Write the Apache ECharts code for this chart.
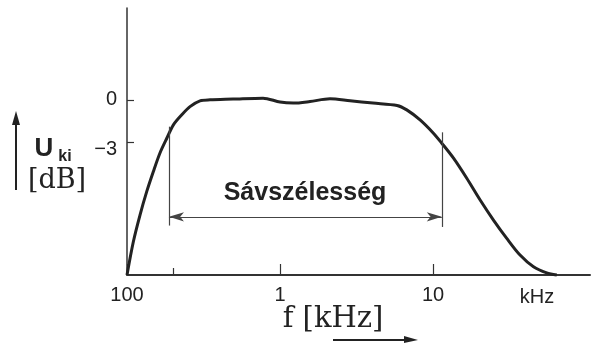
<!DOCTYPE html>
<html>
<head>
<meta charset="utf-8">
<script src="https://cdn.jsdelivr.net/npm/echarts@6/dist/echarts.min.js"></script>
<style>
    html, body { margin: 0; padding: 0; background: #fff; }
    #chart { width: 591px; height: 343px; }
</style>
</head>
<body>
<div id="chart"></div>
<script>
    // frequency response, f in kHz, level in dB
    var responseCurve = [
        [0.1, -12.4], [0.11, -10.05], [0.1216, -8.16], [0.1345, -6.5], [0.1485, -5.09],
        [0.164, -3.78], [0.182, -2.72], [0.201, -1.77], [0.228, -1.06], [0.258, -0.48],
        [0.3, -0.07], [0.349, 0], [0.493, 0.05], [0.774, 0.12], [1.0, -0.16],
        [1.22, -0.23], [1.57, -0.12], [2.12, 0.07], [2.87, -0.07], [4.05, -0.23],
        [5.82, -0.4], [6.73, -0.71], [8.22, -1.42], [10.05, -2.36], [11.4, -3.07],
        [13.6, -4.13], [16.6, -5.55], [20.3, -7.09], [24.8, -8.51], [30.3, -9.81],
        [37.0, -10.99], [45.3, -11.82], [55.3, -12.25], [64.3, -12.4]
    ];
    var xTicks = [0.1, 1, 10];
    var xMinorTicks = [0.2];
    var yTicks = [0, -3];
    // bandwidth bracket (-3 dB points)
    var bandLow = 0.188;
    var bandHigh = 11.4;
    var bandLowSpan = [-1.9, -8.9];
    var bandHighSpan = [-2.3, -9.0];
    var bandArrowLevel = -8.28;

    var ink = '#222';
    var chart = echarts.init(document.getElementById('chart'));
    chart.setOption({
        animation: false,
        grid: { left: 127, right: 1, top: 8, bottom: 68 },
        xAxis: [
            {
                type: 'log',
                logBase: 10,
                min: 0.1,
                max: 106,
                axisLine: { onZero: false, lineStyle: { color: '#333', width: 2 } },
                axisTick: { inside: true, length: 11, customValues: xTicks, lineStyle: { color: '#333', width: 1.2 } },
                axisLabel: {
                    customValues: xTicks,
                    margin: 10,
                    color: ink,
                    fontFamily: 'Liberation Sans',
                    fontSize: 20,
                    formatter: function (v) { return v < 1 ? String(Math.round(v * 1000)) : String(v); }
                },
                splitLine: { show: false }
            },
            {
                type: 'log',
                logBase: 10,
                min: 0.1,
                max: 106,
                position: 'bottom',
                axisLine: { show: false, onZero: false },
                axisTick: { inside: true, length: 7, customValues: xMinorTicks, lineStyle: { color: '#333', width: 1.2 } },
                axisLabel: { show: false },
                splitLine: { show: false }
            }
        ],
        yAxis: {
            type: 'value',
            min: -12.4,
            max: 6.5,
            axisLine: { show: true, onZero: false, lineStyle: { color: '#333', width: 1.5 } },
            axisTick: { show: true, inside: true, length: 7, customValues: yTicks, lineStyle: { color: '#333', width: 1.2 } },
            axisLabel: {
                customValues: yTicks,
                margin: 10,
                color: ink,
                fontFamily: 'Liberation Sans',
                fontSize: 20,
                formatter: function (v) { return v === 0 ? '{n|0}' : '{m|\u22123}'; },
                rich: {
                    n: { fontSize: 20, fontFamily: 'Liberation Sans', color: ink },
                    m: { fontSize: 20, fontFamily: 'Liberation Sans', color: ink, padding: [14, 0, 0, 0] }
                }
            },
            splitLine: { show: false }
        },
        series: [
            {
                type: 'line',
                data: responseCurve,
                smooth: 0.3,
                symbol: 'none',
                clip: false,
                lineStyle: { color: ink, width: 3 }
            },
            {
                type: 'line',
                data: [],
                markLine: {
                    silent: true,
                    animation: false,
                    label: { show: false },
                    lineStyle: { color: '#444', width: 1.2, type: 'solid' },
                    symbol: ['arrow', 'arrow'],
                    symbolSize: [7, 15],
                    data: [
                        [{ coord: [bandLow, bandArrowLevel] }, { coord: [bandHigh, bandArrowLevel] }],
                        [{ coord: [bandLow, bandLowSpan[0]], symbol: 'none' }, { coord: [bandLow, bandLowSpan[1]], symbol: 'none' }],
                        [{ coord: [bandHigh, bandHighSpan[0]], symbol: 'none' }, { coord: [bandHigh, bandHighSpan[1]], symbol: 'none' }]
                    ]
                }
            }
        ],
        graphic: [
            {
                type: 'text', x: 305, y: 193,
                style: { text: 'Sávszélesség', fill: ink, font: 'bold 25px "Liberation Sans"', align: 'center', verticalAlign: 'middle' }
            },
            {
                type: 'text', x: 537, y: 297,
                style: { text: 'kHz', fill: ink, font: '20px "Liberation Sans"', align: 'center', verticalAlign: 'middle' }
            },
            {
                type: 'text', x: 333, y: 319,
                style: { text: 'f [kHz]', fill: ink, font: '29px "DejaVu Serif"', align: 'center', verticalAlign: 'middle' }
            },
            { type: 'line', shape: { x1: 333, y1: 340, x2: 408, y2: 340 }, style: { stroke: ink, lineWidth: 2 } },
            { type: 'polygon', shape: { points: [[418, 340], [404, 336], [404, 343]] }, style: { fill: ink } },
            { type: 'line', shape: { x1: 16, y1: 190, x2: 16, y2: 122 }, style: { stroke: ink, lineWidth: 2 } },
            { type: 'polygon', shape: { points: [[16, 111], [12, 125], [20, 125]] }, style: { fill: ink } },
            {
                type: 'text', x: 44, y: 149,
                style: { text: 'U', fill: ink, font: 'bold 26px "Liberation Sans"', align: 'center', verticalAlign: 'middle' }
            },
            {
                type: 'text', x: 65, y: 157,
                style: { text: 'ki', fill: ink, font: 'bold 16px "Liberation Sans"', align: 'center', verticalAlign: 'middle' }
            },
            {
                type: 'text', x: 57, y: 181,
                style: { text: '[dB]', fill: ink, font: '27px "DejaVu Serif"', align: 'center', verticalAlign: 'middle' }
            }
        ]
    });
</script>
</body>
</html>
